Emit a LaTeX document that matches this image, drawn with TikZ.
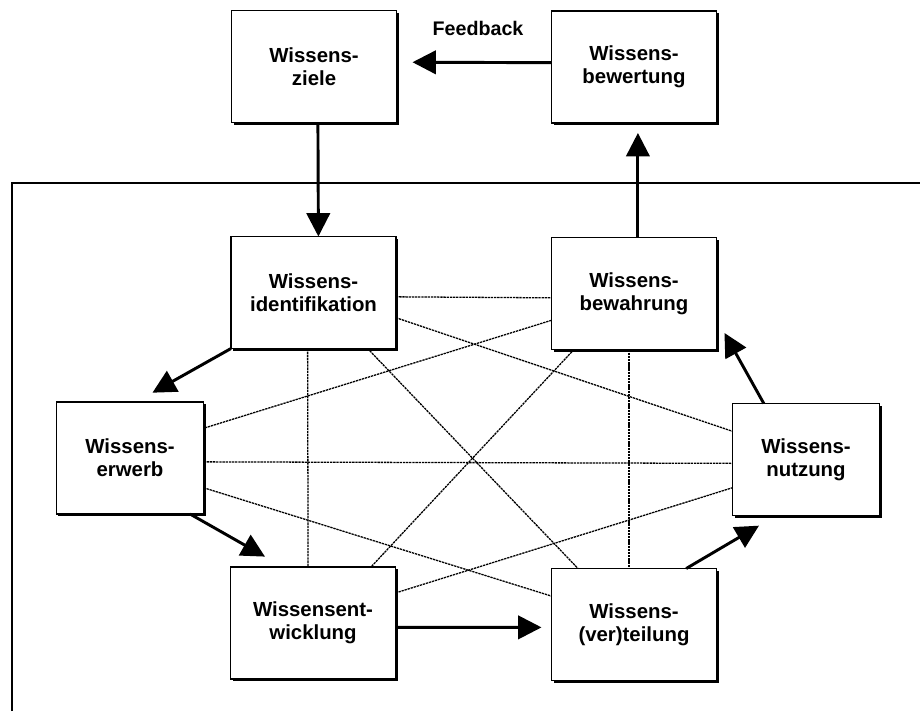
\documentclass[tikz,border=0pt]{standalone}
\usepackage{fontspec}
\setmainfont{Liberation Sans}
\usepackage{tikz}
\usetikzlibrary{arrows.meta,shadows}

\begin{document}
\begin{tikzpicture}[x=0.3mm,y=-0.3mm,
		wbox/.style={draw,line width=1.4pt,fill=white,minimum width=49.5mm,minimum height=33.6mm,inner sep=0pt,outer sep=0pt,align=center,font=\fontsize{17.4}{19.8}\selectfont\bfseries,drop shadow={shadow xshift=0.6mm,shadow yshift=-0.6mm,fill=black,opacity=1}},
		nbox/.style={wbox,minimum width=44.1mm},
		flow/.style={line width=2.5pt,-{Triangle[length=7mm,width=7mm]}},
		link/.style={line width=1.1pt,dash pattern=on 2pt off 0.7pt}]
		\useasboundingbox (0,0) rectangle (920,711);
		\draw[line width=1.2pt] (12,711) -- (12,183) -- (920,183);
		\node[wbox] (ziele) at (314,66.5) {Wissens-\\ziele};
		\node[wbox] (bewertung) at (634,67) {Wissens-\\bewertung};
		\node[wbox] (ident) at (313.5,292.5) {Wissens-\\identifikation};
		\node[wbox] (bewahrung) at (634,293.5) {Wissens-\\bewahrung};
		\node[nbox] (erwerb) at (130,458) {Wissens-\\erwerb};
		\node[nbox] (nutzung) at (806,459.5) {Wissens-\\nutzung};
		\node[wbox] (entwicklung) at (313,623) {Wissensent-\\wicklung};
		\node[wbox] (verteilung) at (634,624.5) {Wissens-\\(ver)teilung};
		\node[font=\fontsize{16.8}{19}\selectfont\bfseries] (feedback) at (478,28) {Feedback};
		\draw[link] (ident.-3) -- (bewahrung.183);
		\draw[link] (ident.-96) -- (entwicklung.95);
		\draw[link] (bewahrung.-95) -- (verteilung.95);
		\draw[link] (erwerb.-3) -- (nutzung.183);
		\draw[link] (ident.-17) -- (nutzung.159);
		\draw[link] (ident.-46) -- (verteilung.135);
		\draw[link] (bewahrung.198) -- (erwerb.22);
		\draw[link] (bewahrung.-137) -- (entwicklung.44);
		\draw[link] (erwerb.-22) -- (verteilung.161);
		\draw[link] (entwicklung.20) -- (nutzung.-159);
		\draw[flow] (ziele.-86) -- (ident.85);
		\draw[flow,shorten >=3mm] (bewahrung.86) -- (bewertung.-86);
		\draw[flow,shorten >=4.8mm] (bewertung.177) -- (ziele.3);
		\draw[flow,shorten >=5.7mm] (ident.south west) -- (erwerb.84);
		\draw[flow,shorten >=6.3mm] (erwerb.-43) -- (entwicklung.118);
		\draw[flow,shorten >=3mm] (entwicklung.-3) -- (verteilung.182);
		\draw[flow,shorten >=6mm] (verteilung.47) -- (nutzung.-118);
		\draw[flow,shorten >=4.9mm] (nutzung.127) -- (bewahrung.-17);
	\end{tikzpicture}
\end{document}
